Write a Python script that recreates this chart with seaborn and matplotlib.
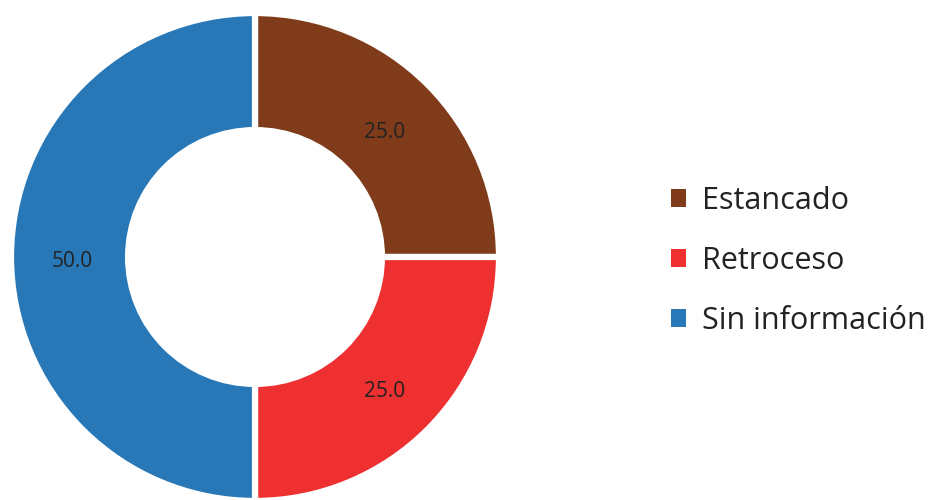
import matplotlib
matplotlib.use("Agg")
import matplotlib.pyplot as plt
from matplotlib.patches import Patch
from matplotlib.transforms import offset_copy
import seaborn as sns

# data
categories = ["Estancado", "Retroceso", "Sin información"]
values = [25.0, 25.0, 50.0]
colors = ["#7F3B1A", "#EE3030", "#2878B8"]

sns.set_theme(style="white")
plt.rcParams["font.family"] = ["Open Sans", "DejaVu Sans"]

fig = plt.figure(figsize=(9.32, 5), dpi=100)
ax = fig.add_axes([11 / 932, -1 / 500, 488 / 932, 488 / 500])

wedges, texts, autotexts = ax.pie(
    values, colors=colors, startangle=90, counterclock=False,
    autopct="%.1f", pctdistance=0.75, radius=1,
    wedgeprops=dict(width=0.48, edgecolor="white", linewidth=4.5),
    textprops=dict(fontsize=15, color="#222222"))
ax.set_xlim(-1, 1)
ax.set_ylim(-1, 1)
ax.set_aspect("auto")
ax.axis("off")

# nudge the value labels slightly down, like the original
for t in autotexts:
    t.set_transform(offset_copy(ax.transData, fig=fig, y=-5, units="dots"))

handles = [Patch(facecolor=c, edgecolor="none") for c in colors]
fig.legend(handles, categories, loc="center left", bbox_to_anchor=(643 / 932, 0.478),
           frameon=False, fontsize=22, handlelength=0.52, handleheight=0.52,
           handletextpad=0.5, labelspacing=0.98, labelcolor="#222222")

fig.savefig("out.png", dpi=100, facecolor="white")
